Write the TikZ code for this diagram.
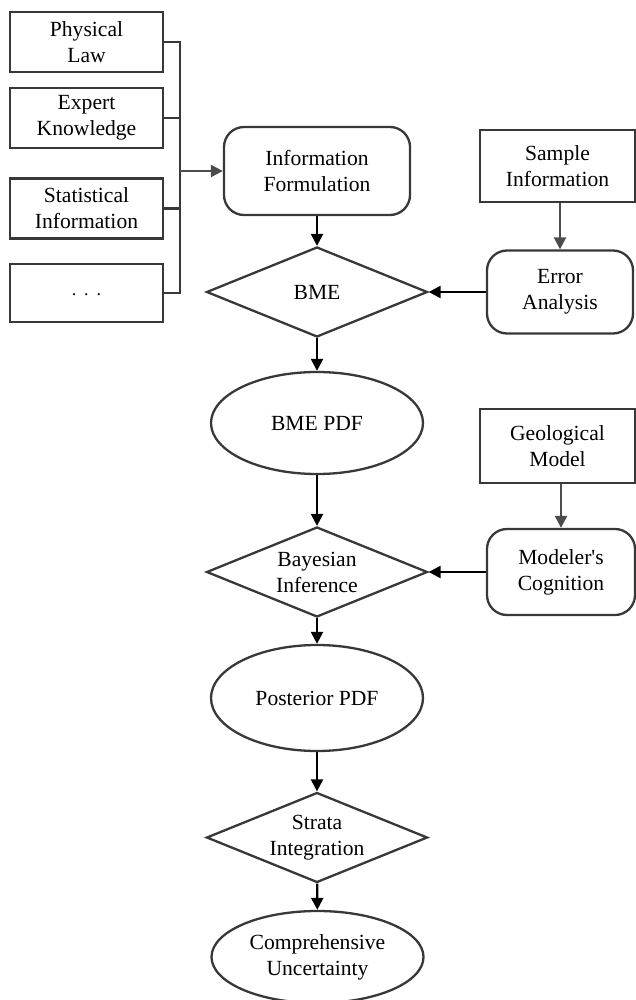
\documentclass[tikz,border=0pt]{standalone}
\usepackage{fontspec}
\setmainfont{Liberation Serif}
\usepackage{tikz}
\usetikzlibrary{shapes.geometric, arrows.meta, positioning}
\definecolor{linegray}{rgb}{0.22, 0.22, 0.22}
\definecolor{sidegray}{rgb}{0.30, 0.30, 0.30}

\begin{document}
\begin{tikzpicture}[x=0.5pt, y=-0.5pt, line width=1.15pt,
	every node/.style={font=\fontsize{10.8}{13}\selectfont, align=center, inner sep=0pt},
	srcbox/.style={draw=linegray, rectangle, minimum width=76.5pt, minimum height=30pt},
	roundbox/.style={draw=linegray, rectangle, rounded corners=10pt},
	decide/.style={draw=linegray, diamond, aspect=2.45, minimum width=110.5pt, minimum height=45pt},
	result/.style={draw=linegray, ellipse, minimum width=106pt, minimum height=51pt},
	flow/.style={-{Triangle[length=6pt,width=6pt]}, black},
	sideflow/.style={-{Triangle[length=6pt,width=6pt]}, sidegray}]
		\useasboundingbox (0,0) rectangle (636,1000);
		
		% information sources
		\node[srcbox] (law) at (86.5,42) {Physical\\Law};
		\node[srcbox] (expert) at (86.5,118) {Expert\\Knowledge};
		\node[srcbox] (stat) at (86.5,208.5) {Statistical\\Information};
		\node[srcbox, minimum height=29pt] (more) at (86.5,293) {\raisebox{-3pt}{\small.\hspace{4pt}.\hspace{4pt}.}};
		\coordinate (bus) at (180,171);
		
		% main flow
		\node[roundbox, minimum width=93pt, minimum height=44pt] (formul) at (317,171) {Information\\Formulation};
		\node[decide] (bme) at (317,292) {BME};
		\node[result] (bmepdf) at (317,423) {BME PDF};
		\node[decide] (bayes) at (317,572) {Bayesian\\Inference};
		\node[result, minimum height=53pt] (post) at (317,698) {Posterior PDF};
		\node[decide] (strata) at (317,837.5) {Strata\\Integration};
		\node[result, minimum height=46pt] (compr) at (317.5,957) {Comprehensive\\Uncertainty};
		
		% side inputs
		\node[draw=linegray, rectangle, minimum width=77.5pt, minimum height=36pt] (sample) at (557.5,166) {Sample\\Information};
		\node[roundbox, minimum width=73pt, minimum height=41.5pt] (error) at (560,292) {Error\\Analysis};
		\node[draw=linegray, rectangle, minimum width=77.5pt, minimum height=37pt] (geo) at (557.5,446) {Geological\\Model};
		\node[roundbox, minimum width=74pt, minimum height=43pt] (cogn) at (561,572) {Modeler\textquotesingle s\\Cognition};
		
		\draw[linegray] (law.east) -| (bus) |- (more.east);
		\draw[linegray] (expert.east) -- (expert.east -| bus);
		\draw[linegray] (stat.east) -- (stat.east -| bus);
		\draw[sideflow] (bus) -- (formul.west);
		
		\draw[flow] (formul) -- (bme);
		\draw[flow] (bme) -- (bmepdf);
		\draw[flow] (bmepdf) -- (bayes);
		\draw[flow] (bayes) -- (post);
		\draw[flow] (post) -- (strata);
		\draw[flow] (strata) -- (compr);
		
		\draw[sideflow] (error.north |- sample.south) -- (error.north);
		\draw[flow] (error) -- (bme);
		\draw[sideflow] (cogn.north |- geo.south) -- (cogn.north);
		\draw[flow] (cogn) -- (bayes);
\end{tikzpicture}
\end{document}
